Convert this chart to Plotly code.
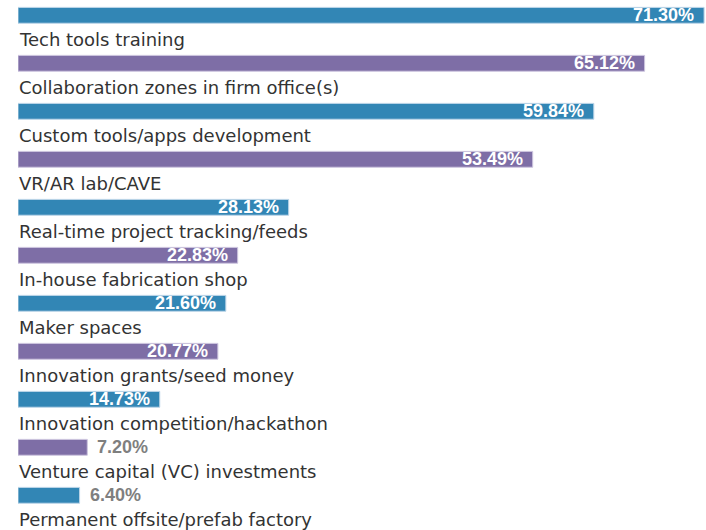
import plotly.graph_objects as go

categories = [
    "Tech tools training",
    "Collaboration zones in firm office(s)",
    "Custom tools/apps development",
    "VR/AR lab/CAVE",
    "Real-time project tracking/feeds",
    "In-house fabrication shop",
    "Maker spaces",
    "Innovation grants/seed money",
    "Innovation competition/hackathon",
    "Venture capital (VC) investments",
    "Permanent offsite/prefab factory",
]
values = [71.30, 65.12, 59.84, 53.49, 28.13, 22.83, 21.60, 20.77, 14.73, 7.20, 6.40]

BLUE = "#3286b5"
PURPLE = "#7e6ea6"
colors = [BLUE if i % 2 == 0 else PURPLE for i in range(len(categories))]
edges = ["#bcd5e8" if i % 2 == 0 else "#cdc5df" for i in range(len(categories))]

fig = go.Figure()
fig.add_trace(go.Bar(
    x=values,
    y=categories,
    orientation="h",
    width=0.33,
    marker=dict(color=colors, line=dict(color=edges, width=1)),
    hoverinfo="skip",
))

annotations = []
for cat, val in zip(categories, values):
    # category label below the bar
    annotations.append(dict(
        x=0, y=cat, xref="x", yref="y",
        text=cat, showarrow=False,
        xanchor="left", yanchor="middle", yshift=-24, xshift=-1,
        font=dict(family="DejaVu Sans", size=18, color="#333333"),
    ))
    # value label, inside for long bars, outside for short ones
    inside = val > 10
    annotations.append(dict(
        x=val, y=cat, xref="x", yref="y",
        text=f"{val:.2f}%", showarrow=False,
        xanchor="right" if inside else "left",
        xshift=-8 if inside else 8,
        yanchor="middle",
        font=dict(family="Liberation Sans", size=18,
                  color="white" if inside else "#7f7f7f", weight="bold"),
    ))

fig.update_layout(
    width=706, height=530,
    margin=dict(l=18, r=0, t=0, b=0),
    plot_bgcolor="white", paper_bgcolor="white",
    showlegend=False,
    annotations=annotations,
    xaxis=dict(range=[0, 71.5], visible=False, fixedrange=True),
    yaxis=dict(type="category", categoryorder="array", categoryarray=categories,
               range=[10.723, -0.319], visible=False, fixedrange=True),
)

fig.write_html("out.html", config={"displayModeBar": False},
               post_script="document.body.style.margin='0';")
